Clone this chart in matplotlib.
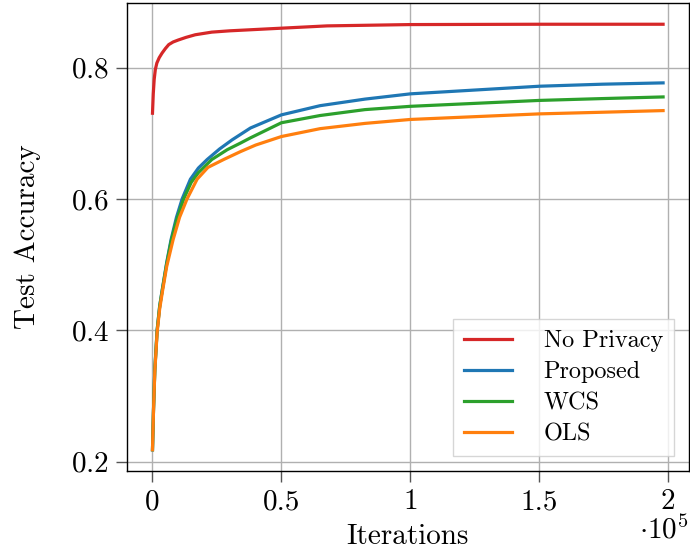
import matplotlib
matplotlib.use('Agg')
import matplotlib.pyplot as plt
from matplotlib.ticker import FuncFormatter

plt.rcParams['font.family'] = ['cmr10']
plt.rcParams['mathtext.fontset'] = 'cm'
plt.rcParams['axes.formatter.use_mathtext'] = True

# values (iterations, test accuracy)
x_red = [0, 300, 660, 1100, 1700, 2600, 3700, 5000, 6300, 8000, 10000, 13000,
         16600, 23000, 30000, 42500, 50000, 67700, 100000, 150000, 198000]
y_red = [0.7305, 0.760, 0.782, 0.797, 0.807, 0.815, 0.822, 0.829, 0.835, 0.839, 0.842, 0.846,
         0.850, 0.854, 0.856, 0.8585, 0.860, 0.8635, 0.8655, 0.866, 0.866]

x_prop = [0, 400, 900, 1800, 2800, 3900, 5500, 7200, 9300, 11500, 14700, 17800, 21200,
          26000, 30900, 38000, 50000, 65000, 82400, 100000, 150000, 174500, 198000]
y_prop = [0.218, 0.28, 0.34, 0.40, 0.437, 0.4645, 0.503, 0.538, 0.572, 0.60, 0.630, 0.647, 0.660,
          0.676, 0.690, 0.708, 0.728, 0.742, 0.752, 0.760, 0.7716, 0.7747, 0.7767]

x_wcs = [0, 400, 900, 1800, 2800, 3900, 5500, 7200, 9300, 12100, 15000, 17800, 23000,
         29000, 34100, 38000, 50000, 65000, 82400, 100000, 150000, 174500, 198000]
y_wcs = [0.218, 0.28, 0.34, 0.40, 0.437, 0.4635, 0.501, 0.535, 0.567, 0.60, 0.625, 0.640, 0.660,
         0.675, 0.685, 0.693, 0.716, 0.727, 0.736, 0.741, 0.750, 0.7528, 0.7553]

x_ols = [0, 400, 900, 1800, 2800, 3900, 5500, 8000, 10500, 13400, 17300, 21500, 27600,
         34100, 40000, 50000, 65000, 82400, 100000, 150000, 174500, 198000]
y_ols = [0.218, 0.278, 0.337, 0.397, 0.433, 0.46, 0.497, 0.538, 0.572, 0.60, 0.630, 0.648, 0.660,
         0.672, 0.682, 0.695, 0.707, 0.715, 0.721, 0.7295, 0.732, 0.7345]

labels = ['No Privacy', 'Proposed', 'WCS', 'OLS']
colors = ['#d62728', '#1f77b4', '#2ca02c', '#ff7f0e']

fig = plt.figure(figsize=(6.9, 5.5), dpi=100)
ax = fig.add_axes([0.184, 0.1436, 0.814, 0.851])

series = [(x_red, y_red), (x_prop, y_prop), (x_wcs, y_wcs), (x_ols, y_ols)]
for (xs, ys), lab, c in zip(series, labels, colors):
    ax.plot(xs, ys, color=c, lw=2.3, label=lab)

ax.set_yticks([0.2, 0.4, 0.6, 0.8])
ax.set_xticks([0, 50000, 100000, 150000, 200000])
ax.xaxis.set_major_formatter(FuncFormatter(lambda v, p: '%g' % (v / 1e5)))
ax.grid(True, color='#b0b0b0', lw=1)
ax.set_axisbelow(True)
ax.tick_params(labelsize=21, length=8, width=1, color='#555555', pad=5)
for s in ax.spines.values():
    s.set_linewidth(1)
    s.set_color('black')

ax.set_xlabel('Iterations', fontsize=21, labelpad=6)
ax.set_ylabel('Test Accuracy', fontsize=21, labelpad=21)
ax.text(1.0, -0.094, r'$\cdot10^{5}$', transform=ax.transAxes, ha='right', va='top',
        fontsize=21)

leg = ax.legend(loc='lower right', fontsize=17.5, fancybox=False, edgecolor='#cccccc',
                framealpha=0.8, handletextpad=1.3, labelspacing=0.37, borderpad=0.45,
                borderaxespad=0.6)

fig.savefig('out.png', dpi=100)
